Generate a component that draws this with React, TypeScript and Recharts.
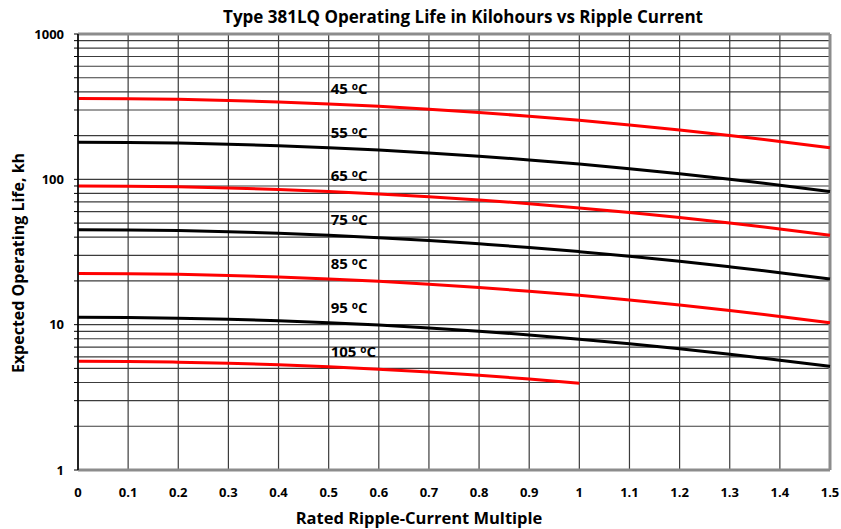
import { LineChart, Line, XAxis, YAxis, CartesianGrid, ReferenceLine } from "recharts";

const ripple = [0, 0.1, 0.2, 0.3, 0.4, 0.5, 0.6, 0.7, 0.8, 0.9, 1, 1.1, 1.2, 1.3, 1.4, 1.5];

const life45 = [360, 358.8, 355, 349, 340.6, 330.1, 317.8, 303.8, 288.4, 271.9, 254.6, 236.7, 218.5, 200.3, 182.4, 165.1];
const life55 = [180, 179.4, 177.5, 174.5, 170.3, 165.1, 158.9, 151.9, 144.2, 136, 127.3, 118.3, 109.3, 100.2, 91.2, 82.5];
const life65 = [90, 89.7, 88.8, 87.2, 85.1, 82.5, 79.4, 75.9, 72.1, 68, 63.6, 59.2, 54.6, 50.1, 45.6, 41.3];
const life75 = [45, 44.8, 44.4, 43.6, 42.6, 41.3, 39.7, 38, 36, 34, 31.8, 29.6, 27.3, 25, 22.8, 20.6];
const life85 = [22.5, 22.42, 22.19, 21.81, 21.29, 20.63, 19.86, 18.99, 18.02, 16.99, 15.91, 14.79, 13.66, 12.52, 11.4, 10.32];
const life95 = [11.25, 11.21, 11.09, 10.9, 10.64, 10.32, 9.93, 9.49, 9.01, 8.5, 7.95, 7.4, 6.83, 6.26, 5.7, 5.16];
const life105 = [5.6, 5.58, 5.52, 5.43, 5.3, 5.14, 4.94, 4.73, 4.49, 4.23, 3.96];

const xTicks = [0, 0.1, 0.2, 0.3, 0.4, 0.5, 0.6, 0.7, 0.8, 0.9, 1, 1.1, 1.2, 1.3, 1.4, 1.5];
const yTicks = [
  1, 2, 3, 4, 5, 6, 7, 8, 9,
  10, 20, 30, 40, 50, 60, 70, 80, 90,
  100, 200, 300, 400, 500, 600, 700, 800, 900,
  1000,
];
const yLabels = [1, 10, 100, 1000];

const series = [
  { key: "t45", name: "45", values: life45, color: "#ff0000" },
  { key: "t55", name: "55", values: life55, color: "#000000" },
  { key: "t65", name: "65", values: life65, color: "#ff0000" },
  { key: "t75", name: "75", values: life75, color: "#000000" },
  { key: "t85", name: "85", values: life85, color: "#ff0000" },
  { key: "t95", name: "95", values: life95, color: "#000000" },
  { key: "t105", name: "105", values: life105, color: "#ff0000" },
];

const data = ripple.map((r, i) => {
  const row: Record<string, number | null> = { r };
  series.forEach((s) => {
    row[s.key] = s.values[i] ?? null;
  });
  return row;
});

const FONT = "'Open Sans', sans-serif";

const tempLabel = (temp: string) => (props: any) => {
  if (props.index !== 5) return null;
  return (
    <text x={props.x + 2} y={props.y - 10} fontFamily={FONT} fontWeight={700} fontSize={15} fill="#000">
      {temp + " "}
      <tspan fontSize={10} dy={-4}>o</tspan>
      <tspan dy={4}>C</tspan>
    </text>
  );
};

export default function App() {
  return (
    <div style={{ width: 841, height: 529, background: "#fff" }}>
      <style>{`body{margin:0}`}</style>
      <LineChart width={841} height={529} data={data} margin={{ top: 34, right: 11, bottom: 19, left: 0 }}>
        <CartesianGrid stroke="#3c3c3c" strokeWidth={1.2} horizontal vertical />
        <XAxis
          dataKey="r"
          type="number"
          domain={[0, 1.5]}
          ticks={xTicks}
          height={40}
          tickLine={false}
          tickSize={16}
          axisLine={{ stroke: "#8c8c8c", strokeWidth: 3 }}
          tick={{ fontFamily: FONT, fontWeight: 700, fontSize: 13, fill: "#000" }}
        />
        <YAxis
          scale="log"
          domain={[1, 1000]}
          ticks={yTicks}
          allowDataOverflow
          width={78}
          tickSize={4}
          tickMargin={10}
          tickLine={{ stroke: "#000" }}
          interval={0}
          tickFormatter={(v: number) => (yLabels.includes(v) ? String(v) : "")}
          axisLine={{ stroke: "#000", strokeWidth: 1.5 }}
          tick={{ fontFamily: FONT, fontWeight: 700, fontSize: 13, fill: "#000" }}
        />
        <ReferenceLine y={1000} stroke="#8c8c8c" strokeWidth={3} />
        <ReferenceLine x={1.5} stroke="#8c8c8c" strokeWidth={3} />
        {series.map((s) => (
          <Line
            key={s.key}
            dataKey={s.key}
            stroke={s.color}
            strokeWidth={3}
            dot={false}
            type="monotone"
            isAnimationActive={false}
            label={tempLabel(s.name)}
          />
        ))}
        <text x={463} y={23} textAnchor="middle" fontFamily={FONT} fontWeight={700} fontSize={17} fill="#000">
          Type 381LQ Operating Life in Kilohours vs Ripple Current
        </text>
        <text x={419} y={524} textAnchor="middle" fontFamily={FONT} fontWeight={700} fontSize={16.5} fill="#000">
          Rated Ripple-Current Multiple
        </text>
        <text
          x={24}
          y={263}
          textAnchor="middle"
          transform="rotate(-90 24 263)"
          fontFamily={FONT}
          fontWeight={700}
          fontSize={16}
          fill="#000"
        >
          Expected Operating Life, kh
        </text>
      </LineChart>
    </div>
  );
}
